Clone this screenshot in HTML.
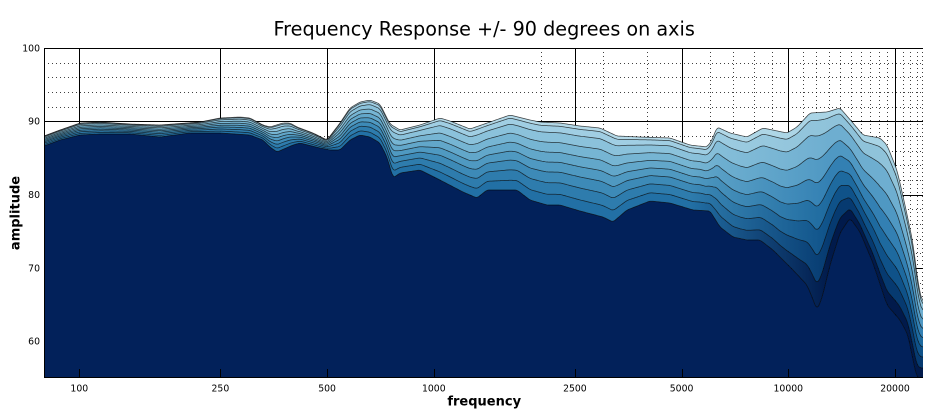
<!DOCTYPE html>
<html><head><meta charset="utf-8">
<style>
html,body{margin:0;padding:0;background:#fff;width:940px;height:412px;overflow:hidden}
svg{display:block}
text{font-family:"DejaVu Sans","Liberation Sans",sans-serif;fill:#000}
</style></head><body>
<svg id="c" width="940" height="412" viewBox="0 0 940 412" xmlns="http://www.w3.org/2000/svg">
<defs id="defs"><clipPath id="pa"><rect x="44" y="48" width="879" height="330"/></clipPath></defs>
<rect x="0" y="0" width="940" height="412" fill="#fff"/>
<g id="grid"></g>
<g id="fills" clip-path="url(#pa)"></g>
<g id="lines" clip-path="url(#pa)" fill="none" stroke="#000" stroke-width="0.75" stroke-opacity="0.72" stroke-linejoin="round"></g>
<g id="axes" stroke="#000" stroke-width="1" fill="none"></g>
<text x="484.2" y="35.7" font-size="19.2" text-anchor="middle">Frequency Response +/- 90 degrees on axis</text>
<text x="484.2" y="405.5" font-size="13" font-weight="bold" text-anchor="middle">frequency</text>
<text transform="translate(19.5,213) rotate(-90)" font-size="13" font-weight="bold" text-anchor="middle">amplitude</text>
<g font-size="9.3" text-anchor="end">
<text x="40" y="51.3">100</text>
<text x="40" y="124.6">90</text>
<text x="40" y="198">80</text>
<text x="40" y="271.3">70</text>
<text x="40" y="344.6">60</text>
</g>
<g font-size="9.3" text-anchor="middle">
<text x="79.3" y="391.7">100</text>
<text x="220.4" y="391.7">250</text>
<text x="327.1" y="391.7">500</text>
<text x="433.8" y="391.7">1000</text>
<text x="574.9" y="391.7">2500</text>
<text x="681.6" y="391.7">5000</text>
<text x="788.3" y="391.7">10000</text>
<text x="895" y="391.7">20000</text>
</g>
</svg>
<script>
(function(){
var NS="http://www.w3.org/2000/svg";
function el(tag,attrs,parent){var e=document.createElementNS(NS,tag);for(var k in attrs)e.setAttribute(k,attrs[k]);if(parent)parent.appendChild(e);return e;}
function X(f){return 79.3+354.5*Math.log10(f/100);}
function Y(v){return 48+(100-v)*7.3333;}
var grid=document.getElementById('grid');
// minor horizontal dotted
for(var v=56;v<100;v+=2){ if(v%10===0) continue; var y=Math.round(Y(v))+0.5;
  el('line',{x1:44,x2:923,y1:y,y2:y,stroke:'#000','stroke-width':1,'stroke-dasharray':'1 3','stroke-opacity':0.75},grid);}
var minors=[2000,3000,4000,6000,7000,8000,9000,11000,12000,13000,14000,15000,16000,17000,18000,19000,21000,22000,23000,24000];
minors.forEach(function(f){var x=Math.round(X(f))+0.5; if(x>923)x=922.5;
  el('line',{x1:x,x2:x,y1:48,y2:378,stroke:'#000','stroke-width':1,'stroke-dasharray':'1 3','stroke-opacity':0.75},grid);});
[60,70,80,90].forEach(function(v){var y=Math.round(Y(v))+0.5;
  el('line',{x1:44,x2:923,y1:y,y2:y,stroke:'#000','stroke-width':1},grid);});
var majors=[100,250,500,1000,2500,5000,10000,20000];
majors.forEach(function(f){var x=Math.round(X(f))+0.5;
  el('line',{x1:x,x2:x,y1:48,y2:378,stroke:'#000','stroke-width':1},grid);});

var T=[[44,136],[60,130],[80,123],[100,122],[130,124],[160,125],[200,122],[220,118],[240,117],[250,118],[263,125],[270,127],[283,123],[290,123],[297,127],[313,133],[327,140],[340,123],[350,108],[360,102],[370,100],[380,104],[390,124],[400,130],[420,125],[440,118],[450,121],[470,129],[490,122],[510,115],[530,120],[540,122],[560,123],[580,126],[600,128],[617,136],[640,137],[670,138],[690,145],[707,147],[712,140],[717,127],[730,133],[747,137],[763,128],[787,133],[797,127],[810,113],[827,112],[840,108],[853,123],[863,135],[880,138],[887,145],[897,170],[905,205],[913,243],[918,283],[923,305]];
var B=[[44,146],[60,140],[80,135],[100,134],[130,134],[160,137],[190,133],[220,133],[250,135],[263,140],[270,147],[277,152],[293,145],[300,143],[320,148],[330,150],[340,150],[350,140],[360,135],[370,137],[380,143],[387,157],[393,178],[400,173],[420,170],[440,180],[463,192],[477,198],[487,190],[517,190],[530,200],[547,205],[560,205],[580,211],[603,217],[613,222],[627,210],[650,201],[670,203],[693,210],[710,211],[720,227],[733,237],[747,240],[760,240],[773,250],[793,270],[807,285],[812,297],[817,310],[822,298],[830,265],[840,233],[850,218],[860,232],[873,263],[887,305],[900,320],[908,335],[913,360],[917,378],[923,378]];
var D=[[44,0],[700,0],[740,8],[780,10],[800,5],[817,0],[835,0],[860,12],[880,18],[900,10],[923,0]];
function interp(P,x){ if(x<=P[0][0]) return P[0][1]; for(var i=1;i<P.length;i++){ if(x<=P[i][0]){ var x0=P[i-1][0],y0=P[i-1][1],x1=P[i][0],y1=P[i][1]; return y0+(y1-y0)*(x-x0)/(x1-x0);} } return P[P.length-1][1]; }
var xs=[];for(var x=44;x<=923;x+=1)xs.push(x);
function smooth(a,w){var r=[];for(var i=0;i<a.length;i++){var s=0,n=0;for(var j=-w;j<=w;j++){var k=i+j;if(k>=0&&k<a.length){s+=a[k];n++;}}r.push(s/n);}return r;}
var t=smooth(xs.map(function(x){return interp(T,x);}),2);
var b=smooth(xs.map(function(x){return interp(B,x);}),2);
var d=xs.map(function(x){return interp(D,x);});
for(var i=0;i<xs.length;i++){ if(b[i]<t[i]) b[i]=t[i]; }
var F=[0,0.04,0.12,0.24,0.36,0.48,0.60,0.73,0.87,1];
var curves=F.map(function(f){return xs.map(function(x,i){var y=t[i]+f*(b[i]-t[i])+d[i]*4*f*(1-f); if(y>b[i])y=b[i]; return y;});});
function fwd(c){var s='';for(var i=0;i<xs.length;i++){s+=(i?'L':'M')+xs[i]+' '+c[i].toFixed(2);}return s;}
function back(c){var s='';for(var i=xs.length-1;i>=0;i--){s+='L'+xs[i]+' '+c[i].toFixed(2);}return s;}
var L=['#b4d9e8','#a0cee3','#8bc2db','#76b5d3','#62a7ca','#4f99c1','#3d8ab7','#2e7cad','#2270a5'];
var R=['#a9d4e5','#8fc3da','#6eaed0','#4f98c3','#3380b3','#1e6a9f','#0f5289','#063a70','#011a4b'];
var defs=document.getElementById('defs');
var fills=document.getElementById('fills');
function off(x){return ((x-44)/879).toFixed(4);}
for(var k=0;k<9;k++){
  var g=el('linearGradient',{id:'g'+k,gradientUnits:'userSpaceOnUse',x1:44,y1:0,x2:923,y2:0},defs);
  el('stop',{offset:0,'stop-color':L[k]},g);
  el('stop',{offset:off(690),'stop-color':L[k]},g);
  el('stop',{offset:off(830),'stop-color':R[k]},g);
  el('stop',{offset:1,'stop-color':R[k]},g);
  el('path',{d:fwd(curves[k])+back(curves[k+1])+'Z',fill:'url(#g'+k+')',stroke:'none'},fills);
}
el('path',{d:fwd(curves[9])+'L923 378L44 378Z',fill:'#02215a',stroke:'none'},fills);
var lines=document.getElementById('lines');
for(var k=0;k<10;k++){ el('path',{d:fwd(curves[k])},lines); }
var axes=document.getElementById('axes');
el('line',{x1:44,x2:923,y1:48.5,y2:48.5},axes);
el('line',{x1:44.5,x2:44.5,y1:48,y2:378},axes);
el('line',{x1:44,x2:923,y1:377.5,y2:377.5},axes);
majors.forEach(function(f){var x=Math.round(X(f))+0.5; el('line',{x1:x,x2:x,y1:369,y2:378},axes);});
})();
</script>
</body></html>
